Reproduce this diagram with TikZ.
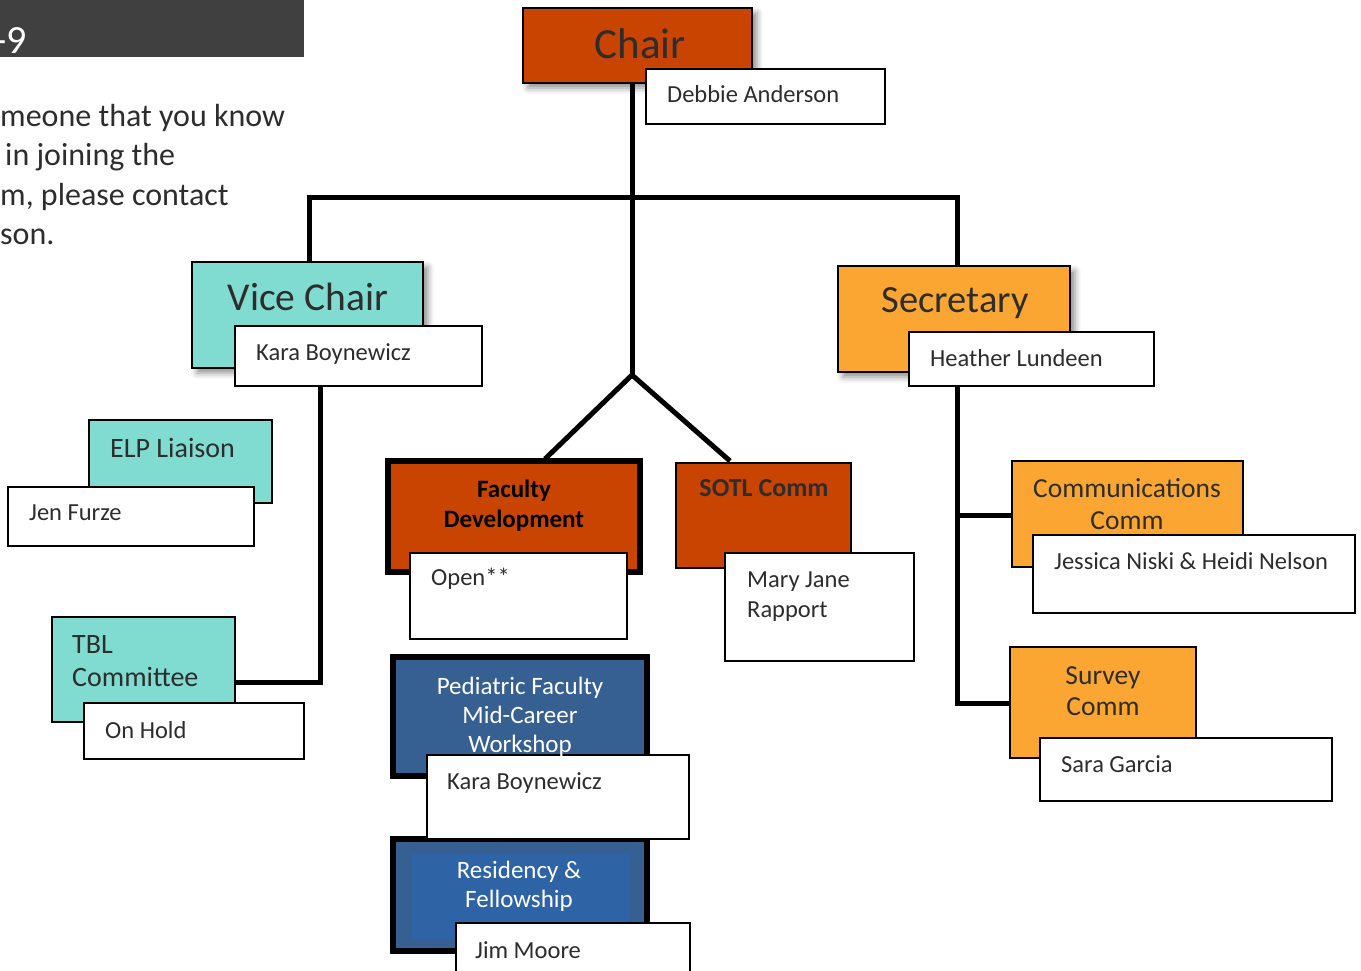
\documentclass[tikz,border=0pt]{standalone}
\usepackage{fontspec}
\setmainfont{Carlito}
\usetikzlibrary{shadows.blur}
\definecolor{rust}{RGB}{200,68,0}
\definecolor{teal}{RGB}{128,219,208}
\definecolor{amber}{RGB}{251,166,50}
\definecolor{steel}{RGB}{55,96,146}
\definecolor{bright}{RGB}{46,99,166}
\definecolor{banner}{RGB}{64,64,64}
\definecolor{ink}{RGB}{45,45,45}
\tikzset{
  box/.style={draw=black, line width=2pt, anchor=north west, inner sep=0pt, outer sep=0pt},
  thickbox/.style={box, line width=6pt},
  namebox/.style={box, fill=white},
  shade/.style={blur shadow={shadow xshift=5pt, shadow yshift=-5pt, shadow blur radius=6pt, shadow opacity=45}},
  conn/.style={line width=5pt, draw=black},
  txt/.style={inner sep=0pt, text=ink, anchor=base west},
  ctxt/.style={inner sep=0pt, text=ink, anchor=base},
  nm/.style={font=\fontsize{24.5}{30}\selectfont},
  sub/.style={font=\fontsize{28}{33}\selectfont},
  para/.style={txt, font=\fontsize{32}{38}\selectfont},
}
\begin{document}
\begin{tikzpicture}[x=1pt,y=-1pt]
\useasboundingbox (0,0) rectangle (1361,971);
% banner and text
\fill[banner] (0,0) rectangle (304,57);
\node[txt, text=white, font=\fontsize{40}{48}\selectfont] (yr) at (-6,54) {-9};
\node[para] (p1) at (0,127) {meone that you know};
\node[para] (p2) at (5,166) {in joining the};
\node[para] (p3) at (0,205) {m, please contact};
\node[para] (p4) at (0,244) {son.};

% coordinates of connector joints
\coordinate (hubtop) at (632,198);
\coordinate (hubleft) at (309,198);
\coordinate (hubright) at (957,198);
\coordinate (fork) at (632,375);
\coordinate (vcdown) at (320,682);
\coordinate (secA) at (957,515);
\coordinate (secB) at (957,703);

% boxes
\node[box, fill=rust, shade, minimum width=229, minimum height=75] (chair) at (523,8) {};
\node[box, fill=teal, shade, minimum width=231, minimum height=106] (vice) at (192,262) {};
\node[box, fill=amber, shade, minimum width=232, minimum height=106] (sec) at (838,266) {};
\node[box, fill=teal, minimum width=183, minimum height=83] (elp) at (89,420) {};
\node[box, fill=teal, minimum width=183, minimum height=105] (tbl) at (52,617) {};
\node[thickbox, fill=rust, minimum width=252, minimum height=111] (fac) at (388,461) {};
\node[box, fill=rust, minimum width=175, minimum height=105] (sotl) at (676,463) {};
\node[thickbox, fill=steel, minimum width=254, minimum height=119] (ped) at (393,657) {};
\node[thickbox, fill=steel, minimum width=254, minimum height=112] (res) at (393,839) {};
\fill[bright] (412,854) rectangle (629,939);
\node[box, fill=amber, minimum width=231, minimum height=106] (comm) at (1012,461) {};
\node[box, fill=amber, minimum width=186, minimum height=111] (surv) at (1010,647) {};

% name boxes
\node[namebox, minimum width=239, minimum height=55] (deb) at (646,69) {};
\node[namebox, minimum width=247, minimum height=60] (kara) at (235,326) {};
\node[namebox, minimum width=245, minimum height=54] (heat) at (909,332) {};
\node[namebox, minimum width=246, minimum height=59] (jen) at (8,487) {};
\node[namebox, minimum width=220, minimum height=56] (hold) at (84,703) {};
\node[namebox, minimum width=217, minimum height=86] (open) at (410,553) {};
\node[namebox, minimum width=189, minimum height=108] (mary) at (725,553) {};
\node[namebox, minimum width=262, minimum height=84] (kara2) at (427,755) {};
\node[namebox, minimum width=234, minimum height=60] (jim) at (456,923) {};
\node[namebox, minimum width=322, minimum height=78] (jess) at (1033,535) {};
\node[namebox, minimum width=292, minimum height=63] (sara) at (1040,738) {};

% connectors
\draw[conn] (chair.south -| hubtop) -- (fork);
\draw[conn, line cap=rect] (hubleft) -- (hubright);
\draw[conn] (hubleft) -- (vice.north -| hubleft);
\draw[conn] (hubright) -- (sec.north -| hubright);
\draw[conn] (fork) -- (545,459);
\draw[conn] (fork) -- (730,461);
\draw[conn, line join=miter] (kara.south -| vcdown) -- (vcdown) -- (tbl.east |- vcdown);
\draw[conn, line join=miter] (heat.south -| secB) -- (secB) -- (surv.west |- secB);
\draw[conn] (secA) -- (comm.west |- secA);

% texts
\node[ctxt, font=\fontsize{43}{50}\selectfont] (chairT) at (640,59) {Chair};
\node[txt, nm] (debT) at (667,103) {Debbie Anderson};
\node[ctxt, font=\fontsize{39.5}{46}\selectfont] (viceT) at (308,310) {Vice Chair};
\node[txt, nm] (karaT) at (256,360) {Kara Boynewicz};
\node[ctxt, font=\fontsize{38.5}{46}\selectfont] (secT) at (955,312) {Secretary};
\node[txt, nm] (heatT) at (930,366) {Heather Lundeen};
\node[txt, sub] (elpT) at (110,457) {ELP Liaison};
\node[txt, nm] (jenT) at (29,520) {Jen Furze};
\node[txt, sub, align=left, anchor=north west] (tblT) at (72,635) {TBL\\Committee};
\node[txt, nm] (holdT) at (105,738) {On Hold};
\node[ctxt, font=\bfseries\fontsize{25}{30}\selectfont, text=black, align=center, anchor=north] (facT) at (514,480) {Faculty\\Development};
\node[txt, nm] (openT) at (431,585) {Open**};
\node[ctxt, font=\bfseries\fontsize{26}{30}\selectfont] (sotlT) at (764,496) {SOTL Comm};
\node[txt, nm, align=left, anchor=north west] (maryT) at (747,572) {Mary Jane\\Rapport};
\node[ctxt, font=\fontsize{25}{29}\selectfont, text=white, align=center, anchor=north] (pedT) at (520,677) {Pediatric Faculty\\Mid-Career\\Workshop};
\node[txt, nm] (kara2T) at (447,789) {Kara Boynewicz};
\node[ctxt, font=\fontsize{25}{29}\selectfont, text=white, align=center, anchor=north] (resT) at (519,861) {Residency \&\\Fellowship};
\node[txt, nm] (jimT) at (475,958) {Jim Moore};
\node[ctxt, font=\fontsize{27.5}{32}\selectfont, align=center, anchor=north] (commT) at (1127,478) {Communications\\Comm};
\node[txt, nm] (jessT) at (1054,569) {Jessica Niski \& Heidi Nelson};
\node[ctxt, font=\fontsize{27.5}{31}\selectfont, align=center, anchor=north] (survT) at (1103,666) {Survey\\Comm};
\node[txt, nm] (saraT) at (1061,772) {Sara Garcia};
\end{tikzpicture}
\end{document}
